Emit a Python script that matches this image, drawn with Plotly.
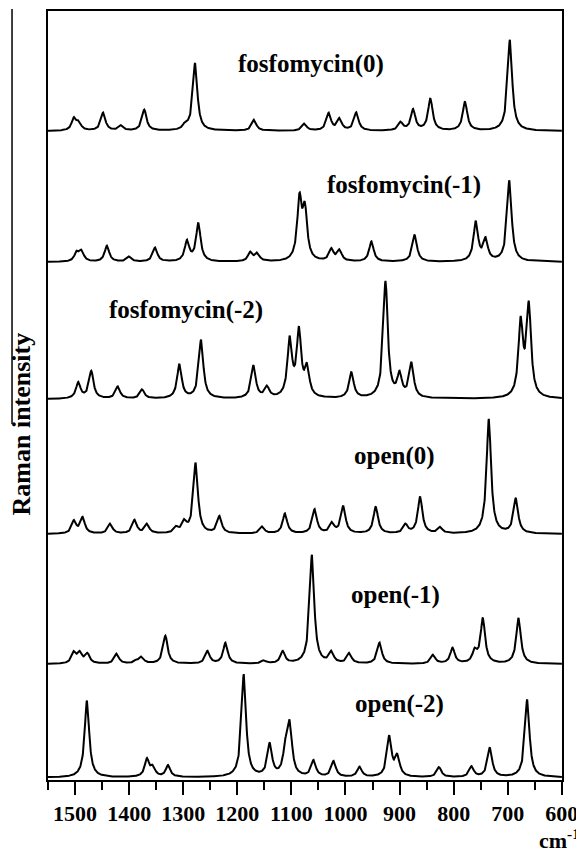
import numpy as np
import plotly.graph_objects as go

# ---------------- data ----------------
# peak centres (cm-1) and peak intensities (arbitrary units)
fosf0_pos = [1502, 1493, 1448, 1415, 1372, 1296, 1278, 1169, 1076, 1031, 1011, 980, 898, 875, 843, 779, 696]
fosf0_int = [12, 7.3, 18, 5, 21, 5, 67.5, 11, 7, 17.2, 11.5, 18, 8, 20.8, 32, 29, 91]

fosf1_pos = [1497, 1488, 1441, 1400, 1352, 1293, 1272, 1176, 1163, 1085, 1075, 1026, 1011, 952, 872, 759, 741, 697]
fosf1_int = [8.7, 10, 16, 5, 14, 20, 38, 9, 7.8, 59.4, 48.1, 11.8, 10.8, 20, 27, 39.2, 21, 81]

fosf2_pos = [1494, 1470, 1421, 1376, 1307, 1267, 1170, 1145, 1103, 1086, 1071, 989, 926, 900, 878, 676, 661]
fosf2_int = [15.8, 27.3, 12, 9, 34, 58.5, 32.5, 10.7, 57, 65, 28, 26, 116.5, 22.2, 34.4, 73.9, 90.6]

open0_pos = [1502, 1486, 1435, 1390, 1367, 1313, 1298, 1277, 1233, 1154, 1112, 1057, 1025, 1004, 944, 889, 862, 825, 735, 685]
open0_int = [12.5, 15.8, 10, 13.5, 9.4, 5.6, 10.6, 70.3, 17, 7, 20, 24, 9.9, 27.2, 27, 8.8, 36.7, 6, 114.6, 34.9]

open1_pos = [1502, 1491, 1477, 1423, 1387, 1377, 1333, 1255, 1222, 1151, 1116, 1062, 1026, 993, 937, 838, 802, 761, 746, 680]
open1_int = [11, 10, 9.5, 10, 2.7, 6.5, 28, 12.5, 20.7, 3, 12.1, 108.7, 11, 10.2, 21, 8.7, 15.5, 11.5, 44.8, 45.7]

open2_pos = [1478, 1367, 1356, 1328, 1188, 1140, 1111, 1103, 1059, 1022, 974, 919, 904, 827, 767, 733, 664]
open2_int = [76.8, 17.5, 9, 11.6, 102.6, 32.3, 24, 50, 16, 15.6, 10, 40, 20, 10, 10.4, 29.4, 77.8]

spectrum_names = ["fosfomycin(0)", "fosfomycin(-1)", "fosfomycin(-2)", "open(0)", "open(-1)", "open(-2)"]
x_ticks = [1500, 1400, 1300, 1200, 1100, 1000, 900, 800, 700, 600]
x_minor = [1550, 1450, 1350, 1250, 1150, 1050, 950, 850, 750, 650]
x_title = "cm<sup>-1</sup>"
y_title = "Raman intensity"

# ---------------- layout / style constants ----------------
HWHM = 5.0                      # line half width (cm-1)
offsets = [649, 518, 381, 246, 116, 2.5]
label_pos = [(1063, 716), (891, 595), (1295, 470), (909, 324), (908, 185), (900, 76)]
FONT = "Liberation Serif, Times New Roman, serif"

peak_sets = [(fosf0_pos, fosf0_int), (fosf1_pos, fosf1_int), (fosf2_pos, fosf2_int),
             (open0_pos, open0_int), (open1_pos, open1_int), (open2_pos, open2_int)]

wn = np.arange(600.0, 1550.01, 0.5)

fig = go.Figure()
for (pos, inten), off, name in zip(peak_sets, offsets, spectrum_names):
    y = np.zeros_like(wn)
    for p, h in zip(pos, inten):
        y += h * HWHM**2 / ((wn - p) ** 2 + HWHM**2)
    fig.add_trace(go.Scatter(x=wn, y=y + off, mode="lines", name=name,
                             line=dict(color="black", width=2), showlegend=False,
                             hoverinfo="skip"))

for name, (lx, ly) in zip(spectrum_names, label_pos):
    fig.add_annotation(x=lx, y=ly, xref="x", yref="y", text="<b>%s</b>" % name,
                       showarrow=False, font=dict(family=FONT, size=25, color="black"))

# y-axis title
fig.add_annotation(x=-0.0506, y=0.4636, xref="paper", yref="paper", text="<b>%s</b>" % y_title,
                   textangle=-90, showarrow=False, xanchor="center", yanchor="middle",
                   font=dict(family=FONT, size=26, color="black"))
# x-axis unit
fig.add_annotation(x=0.951, y=-0.056, xref="paper", yref="paper", text="<b>%s</b>" % x_title,
                   showarrow=False, xanchor="left", yanchor="top",
                   font=dict(family=FONT, size=22, color="black"))
# thin frame line at far left
fig.add_shape(type="line", xref="paper", yref="paper", x0=-0.070, x1=-0.070, y0=0.463, y1=1.0026,
              line=dict(color="black", width=1.5))

fig.update_xaxes(range=[1550, 599.7], tickmode="array", tickvals=x_ticks,
                 ticktext=[str(v) for v in x_ticks], automargin=False,
                 ticks="outside", ticklen=13, tickwidth=2, tickcolor="black",
                 ticklabeloverflow="allow",
                 minor=dict(ticks="outside", ticklen=8, tickwidth=2, tickcolor="black",
                            tickvals=x_minor),
                 showline=True, linewidth=2, linecolor="black", mirror=True,
                 showgrid=False, zeroline=False,
                 tickfont=dict(family=FONT, size=22, color="black", weight="bold"))
fig.update_yaxes(range=[0, 769], showticklabels=False, ticks="", showline=True, linewidth=2,
                 linecolor="black", mirror=True, showgrid=False, zeroline=False, automargin=False)

fig.update_layout(width=576, height=852, autosize=False,
                  margin=dict(l=48, r=14, t=11, b=72),
                  plot_bgcolor="white", paper_bgcolor="white",
                  font=dict(family=FONT, color="black"))

fig.write_html("out.html")
